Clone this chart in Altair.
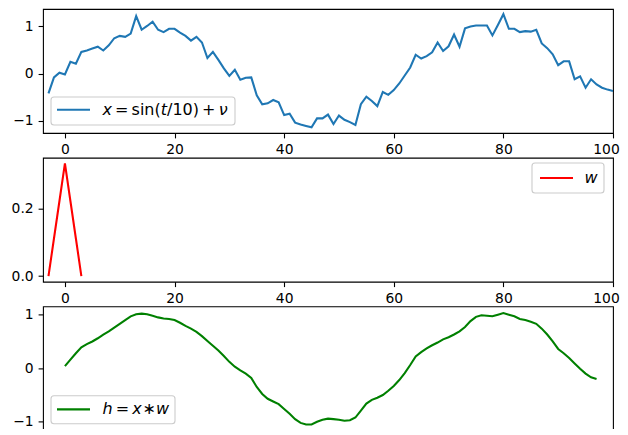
import altair as alt
import pandas as pd

# ---- data ----
t_x = list(range(-3, 101))
x_vals = [
    -0.42, -0.08, 0.02, -0.02, 0.25, 0.21, 0.46, 0.49, 0.53, 0.57,    # -3..6
    0.49, 0.60, 0.75, 0.80, 0.78, 0.85, 1.22, 0.93, 1.01, 1.10,       # 7..16
    0.93, 0.88, 0.95, 0.95, 0.87, 0.80, 0.70, 0.78, 0.66, 0.33,       # 17..26
    0.46, 0.29, 0.11, -0.05, 0.08, -0.13, -0.09, -0.08, -0.46, -0.65,  # 27..36
    -0.63, -0.56, -0.61, -0.88, -0.85, -1.04, -1.08, -1.11, -1.14, -0.95,  # 37..46
    -0.95, -0.87, -1.07, -0.89, -0.98, -1.03, -1.09, -0.65, -0.49, -0.58,  # 47..56
    -0.69, -0.39, -0.45, -0.35, -0.21, -0.04, 0.13, 0.40, 0.32, 0.37,   # 57..66
    0.45, 0.66, 0.48, 0.58, 0.83, 0.57, 0.96, 1.00, 1.02, 1.02,        # 67..76
    1.02, 0.81, 1.03, 1.26, 0.95, 0.95, 0.88, 0.90, 0.89, 0.93,        # 77..86
    0.64, 0.54, 0.41, 0.18, 0.26, 0.26, -0.12, -0.06, -0.30, -0.12,    # 87..96
    -0.23, -0.30, -0.34, -0.37,                                        # 97..100
]

t_w = [-3, -2, -1, 0, 1, 2, 3]
w_vals = [0.0, 0.111, 0.222, 0.333, 0.222, 0.111, 0.0]

t_h = list(range(0, 98))
h_vals = [
    0.04, 0.16, 0.28, 0.39, 0.45, 0.50, 0.56, 0.63, 0.69, 0.76,
    0.83, 0.90, 0.97, 1.01, 1.02, 1.01, 0.98, 0.95, 0.93, 0.92,
    0.90, 0.85, 0.79, 0.74, 0.68, 0.60, 0.51, 0.42, 0.33, 0.23,
    0.12, 0.03, -0.04, -0.10, -0.18, -0.35, -0.48, -0.57, -0.62, -0.67,
    -0.76, -0.85, -0.95, -1.02, -1.05, -1.05, -1.00, -0.96, -0.94, -0.95,
    -0.96, -0.98, -0.97, -0.92, -0.79, -0.66, -0.59, -0.55, -0.50, -0.42,
    -0.33, -0.22, -0.09, 0.06, 0.22, 0.30, 0.37, 0.43, 0.48, 0.54,
    0.58, 0.63, 0.69, 0.77, 0.88, 0.96, 0.99, 0.98, 0.97, 1.00,
    1.03, 1.00, 0.97, 0.92, 0.90, 0.87, 0.83, 0.74, 0.63, 0.50,
    0.36, 0.28, 0.19, 0.09, -0.01, -0.10, -0.17, -0.20,
]

x_ticks = [0, 20, 40, 60, 80, 100]

FONT = "DejaVu Sans"
FS = 13.9      # tick labels
LFS = 16.0     # legend text
W, H = 570, 124
XDOM = [-4, 100]
LW = 2.08

one = pd.DataFrame({"k": [0]})


def xaxis(labels=True):
    return alt.Axis(values=x_ticks, labels=labels, grid=False, domain=False,
                    tickSize=4.9, tickWidth=1.1, tickColor="black",
                    labelPadding=4.9, labelFont=FONT, labelFontSize=FS,
                    labelColor="black", labelFlush=False, labelOverlap=False,
                    labelOffset={"condition": {"test": "datum.value == 100", "value": -7},
                                 "value": 0},
                    title=None)


def yaxis(vals, fmt):
    return alt.Axis(values=vals, format=fmt, grid=False, domain=False,
                    tickSize=4.9, tickWidth=1.1, tickColor="black",
                    labelPadding=4.9, labelFont=FONT, labelFontSize=FS,
                    labelColor="black", labelOverlap=False, title=None,
                    minExtent=33.5, maxExtent=33.5)


def legend(box, line_y, line_x, color, pieces):
    x1, x2, y1, y2 = box
    layers = [
        alt.Chart(one).mark_rect(fill="white", fillOpacity=0.8, stroke="#cccccc",
                                 strokeWidth=1.1, cornerRadius=3).encode(
            x=alt.value(x1), x2=alt.value(x2), y=alt.value(y1), y2=alt.value(y2)),
        alt.Chart(one).mark_rule(color=color, strokeWidth=LW).encode(
            x=alt.value(line_x[0]), x2=alt.value(line_x[1]), y=alt.value(line_y)),
    ]
    for txt, px, ital in pieces:
        layers.append(
            alt.Chart(one).mark_text(align="left", baseline="middle", font=FONT,
                                     fontSize=LFS, color="black",
                                     fontStyle="italic" if ital else "normal").encode(
                x=alt.value(px), y=alt.value(line_y), text=alt.value(txt)))
    return layers


df_x = pd.DataFrame({"t": t_x, "v": x_vals})
df_w = pd.DataFrame({"t": t_w, "v": w_vals})
df_h = pd.DataFrame({"t": t_h, "v": h_vals})

p1_line = alt.Chart(df_x).mark_line(color="#1f77b4", strokeWidth=LW, clip=True).encode(
    x=alt.X("t:Q", scale=alt.Scale(domain=XDOM, nice=False, zero=False), axis=xaxis()),
    y=alt.Y("v:Q", scale=alt.Scale(domain=[-1.26, 1.37], nice=False, zero=False),
            axis=yaxis([-1, 0, 1], "d")),
)
p1 = alt.layer(p1_line, *legend((8, 192, 88, 116), 100.8, (14, 47), "#1f77b4", [
    ("x", 59.5, True), ("=", 72.1, False), ("sin(", 88.6, False),
    ("t", 117.8, True), ("/10)", 124.0, False), ("+", 159.1, False), ("ν", 175.7, True)])
).properties(width=W, height=H)

p2_line = alt.Chart(df_w).mark_line(color="red", strokeWidth=LW, clip=True).encode(
    x=alt.X("t:Q", scale=alt.Scale(domain=XDOM, nice=False, zero=False), axis=xaxis()),
    y=alt.Y("v:Q", scale=alt.Scale(domain=[-0.0167, 0.35], nice=False, zero=False),
            axis=yaxis([0.0, 0.2], ".1f")),
)
p2 = alt.layer(p2_line, *legend((489, 561, 5.3, 35.3), 20.3, (497, 530), "red", [
    ("w", 541.5, True)])).properties(width=W, height=H)

p3_line = alt.Chart(df_h).mark_line(color="green", strokeWidth=LW, clip=True).encode(
    x=alt.X("t:Q", scale=alt.Scale(domain=XDOM, nice=False, zero=False), axis=xaxis(False)),
    y=alt.Y("v:Q", scale=alt.Scale(domain=[-1.16, 1.155], nice=False, zero=False),
            axis=yaxis([-1, 0, 1], "d")),
)
p3 = alt.layer(p3_line, *legend((8, 132, 89.3, 117.3), 103, (14, 47), "green", [
    ("h", 59.5, True), ("=", 72.8, False), ("x", 89.3, True), ("∗", 99.4, False),
    ("w", 113.0, True)])).properties(width=W, height=H)

chart = alt.vconcat(p1, p2, p3, spacing=24.7, bounds="flush").properties(
    padding={"left": 0, "top": 0, "right": 0, "bottom": -8.2}
).configure_view(stroke="black", strokeWidth=1.1)

chart.save("out.html", embed_options={"renderer": "svg", "actions": False})
